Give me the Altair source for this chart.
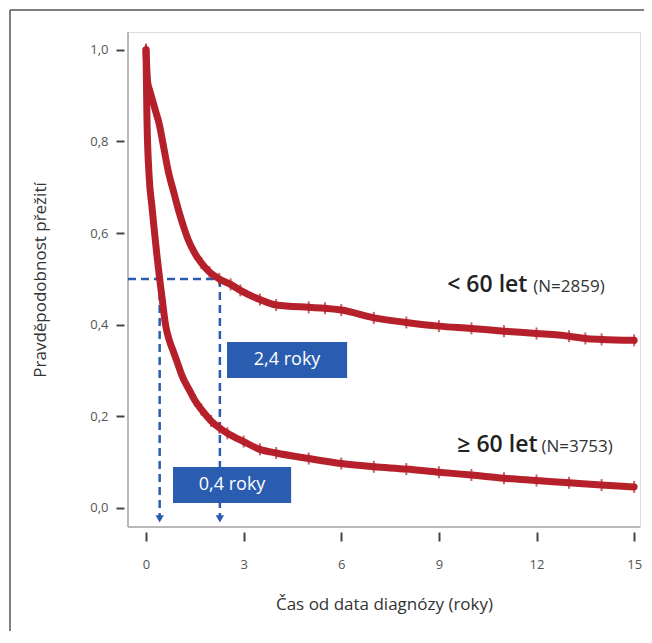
import altair as alt
import pandas as pd

# Kaplan-Meier survival, age < 60
t_young = [0, 0.05, 0.12, 0.2, 0.3, 0.4, 0.55, 0.7, 0.85, 1.0, 1.15, 1.3, 1.5, 1.7, 1.95, 2.25, 2.6, 2.9, 3.5, 4.0, 5.0, 5.5, 6.0, 7.0, 8.0, 9.0, 10.0, 11.0, 12.0, 13.0, 13.5, 14.0, 15.0]
s_young = [1.0, 0.93, 0.91, 0.89, 0.865, 0.84, 0.785, 0.73, 0.69, 0.65, 0.615, 0.585, 0.556, 0.535, 0.515, 0.50, 0.488, 0.475, 0.455, 0.443, 0.438, 0.436, 0.432, 0.415, 0.405, 0.397, 0.392, 0.386, 0.381, 0.375, 0.37, 0.368, 0.366]
# Kaplan-Meier survival, age >= 60
t_old = [0, 0.03, 0.1, 0.18, 0.25, 0.33, 0.42, 0.5, 0.6, 0.72, 0.85, 1.0, 1.1, 1.35, 1.5, 1.7, 2.0, 2.25, 2.5, 3.0, 3.5, 4.0, 5.0, 6.0, 7.0, 8.0, 9.0, 10.0, 11.0, 12.0, 13.0, 14.0, 15.0]
s_old = [1.0, 0.85, 0.72, 0.66, 0.61, 0.555, 0.50, 0.455, 0.40, 0.365, 0.34, 0.31, 0.29, 0.255, 0.235, 0.215, 0.19, 0.175, 0.163, 0.145, 0.128, 0.12, 0.108, 0.097, 0.09, 0.085, 0.078, 0.072, 0.065, 0.06, 0.055, 0.05, 0.046]

medians = [0.42, 2.27]
x_ticks = [0, 3, 6, 9, 12, 15]
y_ticks = [0.0, 0.2, 0.4, 0.6, 0.8, 1.0]

XMIN, XMAX = -0.553, 15.18
YMIN, YMAX = -0.0415, 1.039

RED = "#b5202a"
BLUE = "#2a5db0"
FONT = "Open Sans"

df = pd.concat([
    pd.DataFrame({"t": t_young, "s": s_young, "g": "young"}),
    pd.DataFrame({"t": t_old, "s": s_old, "g": "old"}),
])

xs = alt.Scale(domain=[XMIN, XMAX], nice=False, zero=False)
ys = alt.Scale(domain=[YMIN, YMAX], nice=False, zero=False)

x_axis = alt.Axis(values=x_ticks, domain=False, grid=False, offset=5, tickSize=9,
                  tickWidth=2, tickColor="#444", labelPadding=17, labelFontSize=13,
                  labelColor="#555", labelFont=FONT, title="Čas od data diagnózy (roky)",
                  titleFont=FONT, titleFontSize=17, titleFontWeight="normal",
                  titleColor="#333", titlePadding=25)
y_axis = alt.Axis(values=y_ticks, domain=False, grid=False, offset=4, tickSize=8,
                  tickWidth=2, tickColor="#444", labelPadding=8, labelFontSize=13,
                  labelColor="#555", labelFont=FONT,
                  labelExpr="replace(format(datum.value, '.1f'), '.', ',')",
                  title="Pravděpodobnost přežití", titleFont=FONT, titleFontSize=17,
                  titleFontWeight="normal", titleColor="#333", titlePadding=40)

base = alt.Chart(df)

curves = base.mark_line(color=RED, strokeWidth=7, strokeCap="round", strokeJoin="round",
                        interpolate="monotone").encode(
    x=alt.X("t:Q", scale=xs, axis=x_axis),
    y=alt.Y("s:Q", scale=ys, axis=y_axis),
    detail="g:N",
)
censor = base.mark_tick(color=RED, thickness=2, size=12, orient="vertical").encode(
    x=alt.X("t:Q", scale=xs), y=alt.Y("s:Q", scale=ys)
)

# domain lines
dom = pd.DataFrame({"a": [0]})
left_line = alt.Chart(dom).mark_rule(color="#b8b8b8", strokeWidth=2).encode(
    x=alt.datum(XMIN, scale=xs), y=alt.datum(YMIN, scale=ys), y2=alt.datum(YMAX))
bottom_line = alt.Chart(dom).mark_rule(color="#b8b8b8", strokeWidth=2).encode(
    y=alt.datum(YMIN, scale=ys), x=alt.datum(XMIN, scale=xs), x2=alt.datum(XMAX))

# median annotations
hline = alt.Chart(dom).mark_rule(color=BLUE, strokeWidth=2.5, strokeDash=[8, 5]).encode(
    x=alt.datum(XMIN, scale=xs), x2=alt.datum(medians[1]), y=alt.datum(0.5, scale=ys))
med_df = pd.DataFrame({"m": medians})
vlines = alt.Chart(med_df).mark_rule(color=BLUE, strokeWidth=2.5, strokeDash=[8, 5]).encode(
    x=alt.X("m:Q", scale=xs), y=alt.datum(0.5, scale=ys), y2=alt.datum(-0.02))
arrows = alt.Chart(med_df).mark_point(shape="triangle-down", filled=True, color=BLUE, size=70, opacity=1).encode(
    x=alt.X("m:Q", scale=xs), y=alt.datum(-0.024, scale=ys))

box_df = pd.DataFrame({
    "x1": [2.49, 0.83], "x2": [6.18, 4.46],
    "y1": [0.3624, 0.0895], "y2": [0.2838, 0.0109],
    "xc": [4.335, 2.645], "yc": [0.3231, 0.0502],
    "label": ["2,4 roky", "0,4 roky"],
})
boxes = alt.Chart(box_df).mark_rect(color=BLUE).encode(
    x=alt.X("x1:Q", scale=xs), x2="x2:Q", y=alt.Y("y1:Q", scale=ys), y2="y2:Q")
box_text = alt.Chart(box_df).mark_text(color="white", font=FONT, fontSize=18, baseline="middle").encode(
    x=alt.X("xc:Q", scale=xs), y=alt.Y("yc:Q", scale=ys), text="label:N")

grp_df = pd.DataFrame({
    "big": ["< 60 let", "≥ 60 let"], "small": ["(N=2859)", "(N=3753)"],
    "xb": [11.72, 12.03], "xs": [11.9, 12.15], "y": [0.487, 0.1376],
})
grp_big = alt.Chart(grp_df).mark_text(color="#222", font=FONT, fontSize=23, fontWeight=600,
                                      align="right", baseline="middle").encode(
    x=alt.X("xb:Q", scale=xs), y=alt.Y("y:Q", scale=ys), text="big:N")
grp_small = alt.Chart(grp_df).mark_text(color="#333", font=FONT, fontSize=17,
                                        align="left", baseline="middle", dy=2).encode(
    x=alt.X("xs:Q", scale=xs), y=alt.Y("y:Q", scale=ys), text="small:N")

frame_top = alt.Chart(dom).mark_rule(color="#555", strokeWidth=1.5).encode(
    x=alt.value(-118), x2=alt.value(516), y=alt.value(-22))
frame_left = alt.Chart(dom).mark_rule(color="#555", strokeWidth=1.5).encode(
    x=alt.value(-118), y=alt.value(-22), y2=alt.value(610))

chart = alt.layer(
    frame_top, frame_left, left_line, bottom_line, hline, vlines, arrows, curves, censor,
    boxes, box_text, grp_big, grp_small
).properties(
    width=512, height=495,
    autosize=alt.AutoSizeParams(type="none"),
    padding={"left": 120, "top": 24, "right": 4, "bottom": 104},
).configure_view(stroke=None).configure(background="white")

chart.save("out.html", embed_options={"renderer": "svg", "actions": False})
